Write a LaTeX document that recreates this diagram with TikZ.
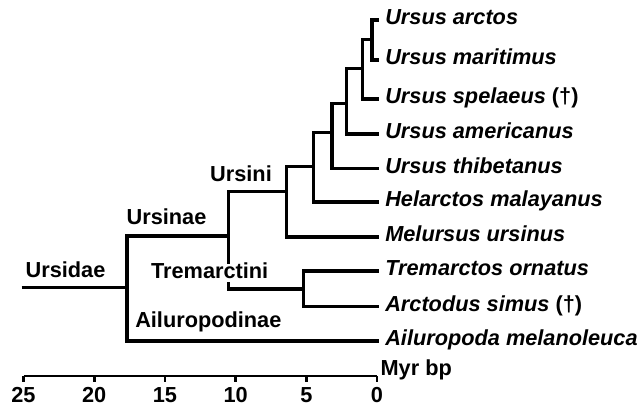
\documentclass[tikz,border=0pt]{standalone}
\usepackage{fontspec}
\setmainfont{Liberation Sans}
\begin{document}
\begin{tikzpicture}[x=0.75pt,y=-0.75pt,
  br/.style={line width=2.4pt, line join=miter},
  taxon/.style={anchor=west, inner xsep=4.5pt, inner ysep=0pt, text height=0.72em, text depth=0pt,
    font=\fontsize{16.3}{19}\selectfont\bfseries\itshape},
  clade/.style={inner sep=0pt, text height=0.72em, text depth=0pt,
    font=\fontsize{16.3}{19}\selectfont\bfseries},
  axlab/.style={inner sep=0pt, text height=0.72em, text depth=0pt,
    font=\fontsize{16.3}{19}\selectfont\bfseries}]
\useasboundingbox (0,0) rectangle (641,412);
% leaves
\node[taxon] (arc)  at (379,20)    {Ursus arctos};
\node[taxon] (mar)  at (379,60)    {Ursus maritimus};
\node[taxon] (spe)  at (379,99)    {Ursus spelaeus {\upshape(†)}};
\node[taxon] (ame)  at (379,134)   {Ursus americanus};
\node[taxon] (thi)  at (379,168.5) {Ursus thibetanus};
\node[taxon] (hel)  at (379,202)   {Helarctos malayanus};
\node[taxon] (mel)  at (379,237)   {Melursus ursinus};
\node[taxon] (tre)  at (379,271)   {Tremarctos ornatus};
\node[taxon] (arcd) at (379,306.5) {Arctodus simus {\upshape(†)}};
\node[taxon] (ail)  at (379,341)   {Ailuropoda melanoleuca};
% internal nodes
\coordinate (nA) at (372,39.5);
\coordinate (nB) at (362.7,68.5);
\coordinate (nC) at (346.3,103.3);
\coordinate (nD) at (332,132.5);
\coordinate (nE) at (313.3,166.7);
\coordinate (nF) at (286.7,191.7);
\coordinate (nG) at (303.3,289);
\coordinate (nH) at (228.3,236);
\coordinate (nI) at (127,287.7);
\coordinate (root) at (21.7,287.7);
% branches
\draw[br] (nA) |- (arc.west);
\draw[br] (nA) |- (mar.west);
\draw[br] (nB) |- (nA);
\draw[br] (nB) |- (spe.west);
\draw[br] (nC) |- (nB);
\draw[br] (nC) |- (ame.west);
\draw[br] (nD) |- (nC);
\draw[br] (nD) |- (thi.west);
\draw[br] (nE) |- (nD);
\draw[br] (nE) |- (hel.west);
\draw[br] (nF) |- (nE);
\draw[br] (nF) |- (mel.west);
\draw[br] (nG) |- (tre.west);
\draw[br] (nG) |- (arcd.west);
\draw[br] (nH) |- (nF);
\draw[br] (nH) |- (nG);
\draw[br] (nI) |- (nH);
\draw[br] (nI) |- (ail.west);
\draw[br] (root) -- (nI);
% clade labels
\node[clade] (lUrsidae) at (65.5,273) {Ursidae};
\node[clade] (lUrsinae) at (166.5,220) {Ursinae};
\node[clade] (lUrsini) at (241,177) {Ursini};
\node[clade, fill=white, inner xsep=1pt, inner ysep=3.2pt] (lTrem) at (209.7,273.3) {Tremarctini};
\node[clade] (lAilu) at (208.3,323) {Ailuropodinae};
% axis
\coordinate (a25) at (23.5,376);
\coordinate (a0) at (377,376);
\draw[line width=2pt, line join=miter] (a25) -- (a0);
\foreach \v [count=\i] in {25,20,15,10,5,0} {
  \coordinate (t\i) at ({377-14.14*\v},376);
  \draw[line width=2pt] (t\i) -- ++(0,5.5);
  \node[axlab] (lab\i) at ({377-14.14*\v},398) {\v};
}
\node[axlab, anchor=west, inner xsep=2.5pt] (myr) at (377,371) {Myr bp};
\end{tikzpicture}
\end{document}
